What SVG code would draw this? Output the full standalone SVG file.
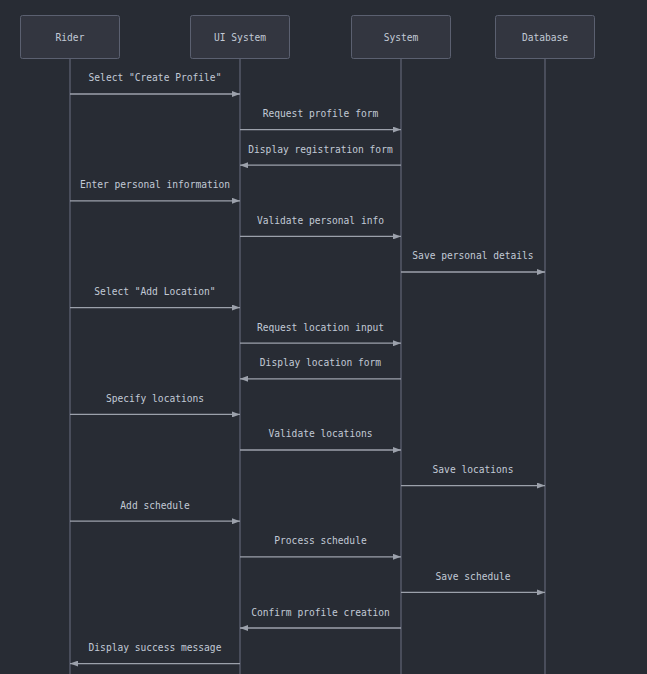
<svg xmlns="http://www.w3.org/2000/svg" width="647" height="674" viewBox="0 0 647 674">
<style>
.bg{fill:#282c34}
.actor rect{fill:#333640;stroke:#5b6070;stroke-width:1}
.actor text{fill:#c2cad6;font-family:"DejaVu Sans Mono","Liberation Mono",monospace;font-size:9.6px;text-anchor:middle;dominant-baseline:central}
.life{stroke:#5b6070;stroke-width:1.3}
.msg line{stroke:#9ca1ab;stroke-width:1.3}
.msg text{fill:#c2cad6;font-family:"DejaVu Sans Mono","Liberation Mono",monospace;font-size:9.6px;text-anchor:middle;dominant-baseline:central}
</style>
<defs>
<marker id="ah" viewBox="0 0 8 6" refX="8" refY="3" markerWidth="8" markerHeight="6" markerUnits="userSpaceOnUse" orient="auto">
<path d="M0,0 L8,3 L0,6 z" fill="#9ca1ab"/>
</marker>
</defs>
<rect class="bg" x="0" y="0" width="647" height="674"/>
<g id="lifelines">
<line class="life" x1="70" y1="58" x2="70" y2="674"/>
<line class="life" x1="240" y1="58" x2="240" y2="674"/>
<line class="life" x1="401" y1="58" x2="401" y2="674"/>
<line class="life" x1="545" y1="58" x2="545" y2="674"/>
</g>
<g id="rider" class="actor"><rect x="20.5" y="15.5" width="99" height="43" rx="2"/><text x="70" y="37">Rider</text></g>
<g id="ui" class="actor"><rect x="190.5" y="15.5" width="99" height="43" rx="2"/><text x="240" y="37">UI System</text></g>
<g id="system" class="actor"><rect x="351.5" y="15.5" width="99" height="43" rx="2"/><text x="401" y="37">System</text></g>
<g id="database" class="actor"><rect x="495.5" y="15.5" width="99" height="43" rx="2"/><text x="545" y="37">Database</text></g>
<g id="connectors" class="msg">
<line x1="70" y1="94" x2="240" y2="94" marker-end="url(#ah)"/><text x="155" y="77">Select "Create Profile"</text>
<line x1="240" y1="129.6" x2="401" y2="129.6" marker-end="url(#ah)"/><text x="320.5" y="113">Request profile form</text>
<line x1="401" y1="165.2" x2="240" y2="165.2" marker-end="url(#ah)"/><text x="320.5" y="149">Display registration form</text>
<line x1="70" y1="200.8" x2="240" y2="200.8" marker-end="url(#ah)"/><text x="155" y="184.5">Enter personal information</text>
<line x1="240" y1="236.4" x2="401" y2="236.4" marker-end="url(#ah)"/><text x="320.5" y="220">Validate personal info</text>
<line x1="401" y1="272" x2="545" y2="272" marker-end="url(#ah)"/><text x="473" y="255.5">Save personal details</text>
<line x1="70" y1="307.6" x2="240" y2="307.6" marker-end="url(#ah)"/><text x="155" y="291">Select "Add Location"</text>
<line x1="240" y1="343.2" x2="401" y2="343.2" marker-end="url(#ah)"/><text x="320.5" y="327">Request location input</text>
<line x1="401" y1="378.8" x2="240" y2="378.8" marker-end="url(#ah)"/><text x="320.5" y="362.5">Display location form</text>
<line x1="70" y1="414.4" x2="240" y2="414.4" marker-end="url(#ah)"/><text x="155" y="398">Specify locations</text>
<line x1="240" y1="450" x2="401" y2="450" marker-end="url(#ah)"/><text x="320.5" y="433.5">Validate locations</text>
<line x1="401" y1="485.6" x2="545" y2="485.6" marker-end="url(#ah)"/><text x="473" y="469">Save locations</text>
<line x1="70" y1="521.2" x2="240" y2="521.2" marker-end="url(#ah)"/><text x="155" y="505">Add schedule</text>
<line x1="240" y1="556.8" x2="401" y2="556.8" marker-end="url(#ah)"/><text x="320.5" y="540.5">Process schedule</text>
<line x1="401" y1="592.4" x2="545" y2="592.4" marker-end="url(#ah)"/><text x="473" y="576">Save schedule</text>
<line x1="401" y1="628" x2="240" y2="628" marker-end="url(#ah)"/><text x="320.5" y="612">Confirm profile creation</text>
<line x1="240" y1="663.6" x2="70" y2="663.6" marker-end="url(#ah)"/><text x="155" y="647">Display success message</text>
</g>
</svg>
